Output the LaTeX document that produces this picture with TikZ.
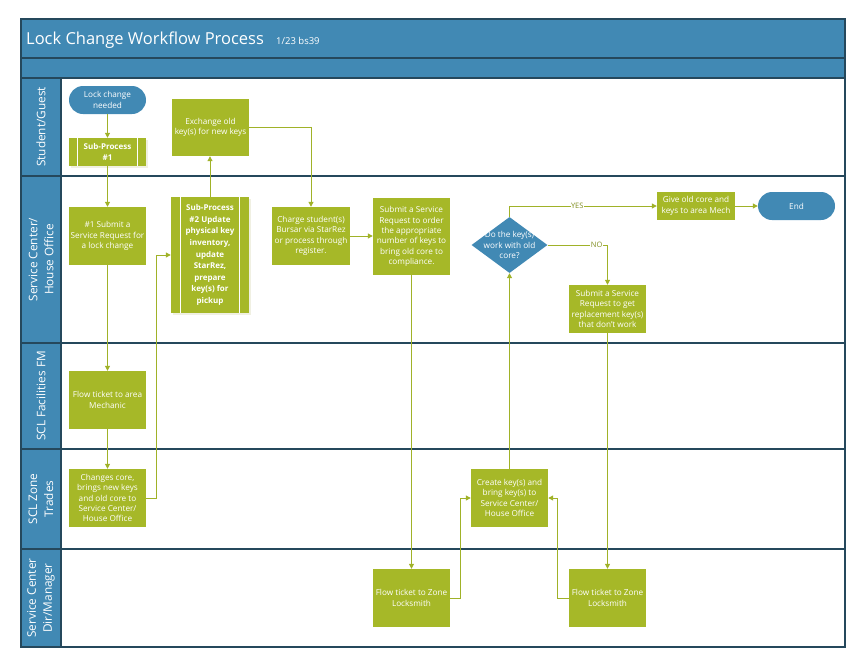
\documentclass[tikz,border=0pt]{standalone}
\usepackage{fontspec}
\setmainfont{Open Sans}
\usetikzlibrary{arrows.meta,shapes.geometric}
\definecolor{laneblue}{RGB}{65,137,180}
\definecolor{edgec}{RGB}{37,72,92}
\definecolor{boxgreen}{RGB}{166,184,40}
\definecolor{linegreen}{RGB}{160,178,40}
\definecolor{shadowc}{RGB}{240,240,226}
\tikzset{
  proc/.style={fill=boxgreen, text=white, inner sep=0, align=center,
    font=\fontsize{8.2}{10.3}\selectfont},
  subproc/.style={proc, font=\bfseries\fontsize{8}{11.6}\selectfont},
  term/.style={fill=laneblue, text=white, inner sep=0, align=center,
    rounded corners=14pt, minimum width=77, minimum height=28,
    font=\fontsize{8.2}{10.3}\selectfont},
  decshape/.style={diamond, fill=laneblue, inner sep=0, minimum width=76, minimum height=56},
  flow/.style={draw=linegreen, line width=1pt, -{Triangle[length=5pt,width=5pt]}},
  lanetext/.style={rotate=90, text=white, align=center, font=\fontsize{11.8}{16}\selectfont},
  condlbl/.style={fill=white, inner sep=0.5pt, text=linegreen!80!black, font=\fontsize{7.5}{8}\selectfont},
}
\begin{document}
\begin{tikzpicture}[x=1pt,y=-1pt]
\useasboundingbox (0,0) rectangle (864,665);
% pool frame
\fill[laneblue] (21,19) rectangle (845,78);
\fill[laneblue] (21,78) rectangle (61,647);
\draw[edgec, line width=1.3pt] (21,19) rectangle (845,647);
\draw[edgec, line width=1.3pt] (21,58) -- (845,58);
\draw[edgec, line width=1.3pt] (21,78) -- (845,78);
\draw[edgec, line width=1.3pt] (61,78) -- (61,647);
\foreach \yy in {176,343,449,549} \draw[edgec, line width=1.3pt] (21,\yy) -- (845,\yy);
% title
\node[anchor=base west, text=white, inner sep=0, font=\fontsize{16.5}{18}\selectfont] (title) at (26,44) {Lock Change Workflow Process};
\node[anchor=base west, text=white, inner sep=0, font=\fontsize{9.5}{11}\selectfont] (subtitle) at (276,44) {1/23 bs39};
% lane labels
\node[lanetext] (l1) at (41,127) {Student/Guest};
\node[lanetext] (l2) at (41,259.5) {Service Center/\\House Office};
\node[lanetext] (l3) at (41,396) {SCL Facilities FM};
\node[lanetext] (l4) at (41,499) {SCL Zone\\Trades};
\node[lanetext] (l5) at (41,598) {Service Center\\Dir/Manager};
% shadows of sub-processes
\fill[shadowc] (71,140) rectangle (148,168);
\fill[shadowc] (173,199) rectangle (251,315);
% nodes
\node[term] (start) at (107.5,100) {Lock change\\needed};
\node[subproc, minimum width=77, minimum height=28] (sp1) at (107.5,152) {Sub-Process\\\#1};
\draw[white, line width=1pt] ([xshift=9pt]sp1.north west) -- ([xshift=9pt]sp1.south west)
  ([xshift=-9pt]sp1.north east) -- ([xshift=-9pt]sp1.south east);
\node[proc, minimum width=77, minimum height=57] (exch) at (210.5,127.5) {Exchange old\\key(s) for new keys};
\node[proc, minimum width=77, minimum height=58] (sub1) at (107.5,236) {\#1 Submit a\\Service Request for\\a lock change};
\node[subproc, minimum width=78, minimum height=116] (sp2) at (210,255) {Sub-Process\\\#2 Update\\physical key\\inventory,\\update\\StarRez,\\prepare\\key(s) for\\pickup};
\draw[white, line width=1pt] ([xshift=10pt]sp2.north west) -- ([xshift=10pt]sp2.south west)
  ([xshift=-10pt]sp2.north east) -- ([xshift=-10pt]sp2.south east);
\node[proc, minimum width=78, minimum height=58] (charge) at (311,236) {Charge student(s)\\Bursar via StarRez\\or process through\\register.};
\node[proc, minimum width=77, minimum height=77] (order) at (411.5,236.5) {Submit a Service\\Request to order\\the appropriate\\number of keys to\\bring old core to\\compliance.};
\node[decshape] (dec) at (509.5,245) {};
\node[text=white, align=center, inner sep=0, font=\fontsize{8.2}{10.3}\selectfont] (dectext) at (dec.center) {Do the key(s)\\work with old\\core?};
\node[proc, minimum width=78, minimum height=28] (give) at (696,206) {Give old core and\\keys to area Mech};
\node[term] (end) at (796.5,206) {End};
\node[proc, minimum width=77, minimum height=48] (repl) at (607.5,309) {Submit a Service\\Request to get\\replacement key(s)\\that don't work};
\node[proc, minimum width=77, minimum height=58] (mech) at (107.5,400) {Flow ticket to area\\Mechanic};
\node[proc, minimum width=77, minimum height=58] (change) at (107.5,498) {Changes core,\\brings new keys\\and old core to\\Service Center/\\House Office};
\node[proc, minimum width=77, minimum height=58] (create) at (509.5,498) {Create key(s) and\\bring key(s) to\\Service Center/\\House Office};
\node[proc, minimum width=77, minimum height=58] (ft1) at (411.5,598) {Flow ticket to Zone\\Locksmith};
\node[proc, minimum width=77, minimum height=58] (ft2) at (607.5,598) {Flow ticket to Zone\\Locksmith};
% connectors
\draw[flow] (start) -- (sp1);
\draw[flow] (sp1) -- (sub1);
\draw[flow] (sub1) -- (mech);
\draw[flow] (mech) -- (change);
\draw[flow] (change.east) -- ++(10,0) |- (sp2.west);
\draw[flow] (sp2.north) -- (sp2.north |- exch.south);
\draw[flow] (exch.east) -| (charge.north);
\draw[flow] (charge.east) -- (charge.east -| order.west);
\draw[flow] (order.south) -- (ft1.north);
\draw[flow] (ft1.east) -- ++(10,0) |- (create.west);
\draw[flow] (create.north) -- (dec.south);
\draw[flow] (dec.north) |- node[condlbl, pos=0.73] {YES} (give.west);
\draw[flow] (give) -- (end);
\draw[flow] (dec.east) -| node[condlbl, pos=0.41] {NO} (repl.north);
\draw[flow] (repl.south) -- (ft2.north);
\draw[flow] (ft2.west) -- ++(-11,0) |- (create.east);
\end{tikzpicture}
\end{document}
